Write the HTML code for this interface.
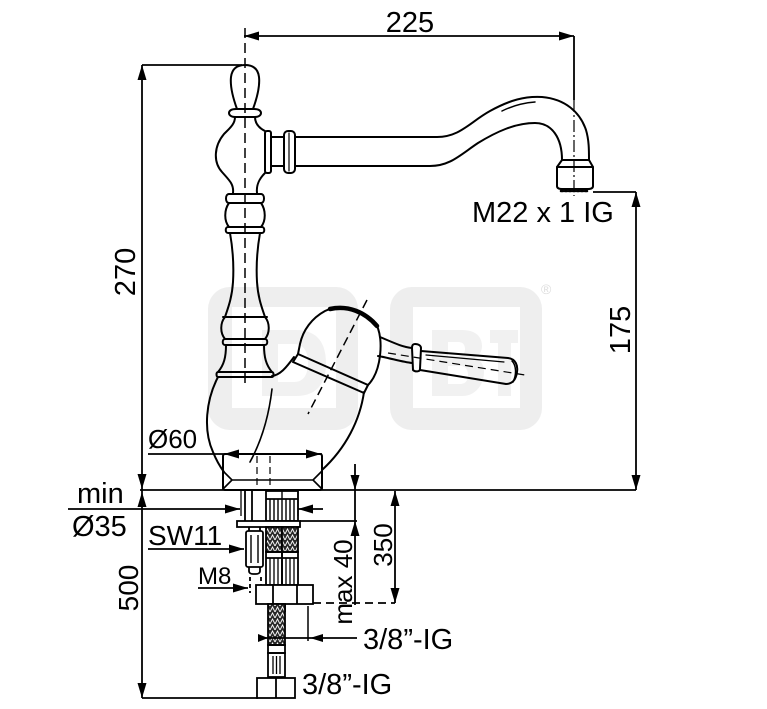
<!DOCTYPE html>
<html><head><meta charset="utf-8">
<style>
html,body{margin:0;padding:0;background:#fff;}
svg{display:block;}
text{font-family:"Liberation Sans",Arial,sans-serif;fill:#000;}
</style></head><body>
<svg width="767" height="709" viewBox="0 0 767 709" xmlns="http://www.w3.org/2000/svg">
<defs>
<pattern id="br" width="5" height="6" patternUnits="userSpaceOnUse">
<rect width="5" height="6" fill="#2a2a2a"/>
<path d="M0,6 L2.5,1 L5,6" stroke="#fff" stroke-width="0.9" fill="none"/>
</pattern>
</defs>
<rect width="767" height="709" fill="#fff"/>

<!-- watermark -->
<g>
<rect x="208" y="287" width="150" height="143" rx="22" fill="#eeeeee"/>
<rect x="232" y="307" width="104" height="101" fill="#fff"/>
<rect x="390" y="287" width="152" height="143" rx="22" fill="#eeeeee"/>
<rect x="413" y="307" width="107" height="101" fill="#fff"/>
<g fill="#f1f1f1">
<rect x="262" y="330" width="16" height="66"/>
<path d="M278,330 h18 c22,0 30,14 30,33 c0,19 -8,33 -30,33 h-18 v-14 h16 c10,0 14,-8 14,-19 c0,-11 -4,-19 -14,-19 h-16 z"/>
<rect x="432" y="330" width="16" height="66"/>
<path d="M448,330 h14 c14,0 20,7 20,16 c0,6 -3,10 -8,12 c7,2 10,7 10,14 c0,12 -8,24 -22,24 h-14 v-12 h12 c6,0 8,-4 8,-9 c0,-5 -2,-9 -8,-9 h-12 v-10 h10 c5,0 7,-3 7,-7 c0,-4 -2,-7 -7,-7 h-10 z"/>
<rect x="490" y="330" width="28" height="13"/>
<rect x="498" y="343" width="13" height="53"/>
</g>
<text x="541" y="294" font-size="14" style="fill:#dddddd">®</text>
</g>

<!-- centerlines -->
<g stroke="#000" fill="none" stroke-width="1.5">
<line x1="245" y1="28" x2="245" y2="385" stroke-dasharray="10 5"/>
<line x1="367" y1="300" x2="308" y2="414" stroke-dasharray="9 5"/>
<line x1="388" y1="353" x2="525" y2="375" stroke-dasharray="8 5" stroke-width="1.2"/>
<line x1="574" y1="100" x2="574" y2="196" stroke-dasharray="12 3 2 3" stroke-width="1.2"/>
<line x1="257" y1="456" x2="257" y2="488" stroke-dasharray="7 4" stroke-width="1.2"/>
<line x1="270" y1="456" x2="270" y2="488" stroke-dasharray="7 4" stroke-width="1.2"/>
</g>

<!-- faucet outlines -->
<g stroke="#000" fill="none" stroke-width="2" stroke-linejoin="round" stroke-linecap="round">
<!-- finial -->
<path d="M237,109 C233,98 230,86 231,77 C232,69 237,65 245,65 C253,65 258,69 259,77 C260,86 257,98 253,109"/>
<path d="M236,109 L254,109 C259,109 261,111 261,113 C261,115 259,117 255,117 L235,117 C231,117 229,115 229,113 C229,111 231,109 236,109 Z"/>
<!-- vase -->
<path d="M235,117 C235,124 230,128 224,134 C214,146 213,162 222,172 C229,180 234,184 233,193"/>
<path d="M255,117 C255,124 259,128 265,131"/>
<path d="M265,173 C260,178 256,184 257,193"/>
<!-- spout connector -->
<rect x="265" y="131" width="6" height="42" rx="2"/>
<line x1="271" y1="137" x2="284" y2="137"/>
<line x1="271" y1="166" x2="284" y2="166"/>
<rect x="284" y="131" width="11" height="42" rx="4"/>
<line x1="289" y1="133" x2="289" y2="171" stroke-width="1.2"/>
<!-- spout -->
<path d="M295,137 L437,137 C460,137 470,122 490,111 C510,100 525,96 542,97 C565,99 580,112 586,130 C589,140 589,150 589,160"/>
<path d="M295,166 L430,166 C450,166 460,155 478,143 C496,132 515,123 535,123 C552,123 562,138 562,160"/>
<path d="M502,111 C512,106 522,103 535,102" stroke-width="1.5"/>
<line x1="562" y1="160" x2="589" y2="160"/>
<path d="M562,160 L557,167 M589,160 L593,167"/>
<path d="M557,167 L593,167 L593,186 C593,188 591,189 588,189 L562,189 C559,189 557,188 557,186 Z"/>
<path d="M561,191 L589,191" stroke-dasharray="2 2" stroke-width="2.5"/>
<!-- rings below vase -->
<path d="M229,194 L261,194 C265,194 265,203 261,203 L229,203 C225,203 225,194 229,194 Z"/>
<path d="M229,203 C224,210 224,221 229,227"/>
<path d="M261,203 C266,210 266,221 261,227"/>
<path d="M228,227 L262,227 C265,227 265,233 262,233 L228,233 C225,233 225,227 228,227 Z"/>
<!-- stem -->
<path d="M230,233 C233,250 234,265 233,282 C232,298 228,308 225,317"/>
<path d="M260,233 C257,250 256,265 257,282 C258,298 262,308 265,317"/>
<line x1="223" y1="317" x2="267" y2="317"/>
<path d="M225,317 C220,323 220,333 225,339"/>
<path d="M265,317 C270,323 270,333 265,339"/>
<path d="M225,339 L265,339 C268,339 268,345 265,345 L225,345 C222,345 222,339 225,339 Z"/>
<path d="M226,345 C226,357 224,365 218,372"/>
<path d="M264,345 C264,357 266,365 272,372"/>
<path d="M218,372 L272,372 C274,372 274,377 272,377 L218,377 C216,377 216,372 218,372 Z"/>
<!-- body -->
<path d="M272,376 C280,375 286,368 294,357"/>
<path d="M218,377 C206,400 203,430 213,452 C217,462 221,468 224,472"/>
<path d="M364,392 C360,420 346,448 322,470"/>
<path d="M272,389 C269,415 262,440 250,462" stroke-width="1.6"/>
<!-- cartridge -->
<path d="M298,354 L368,385 M293,362 L364,393 M298,354 L293,362 M368,385 L364,393"/>
<path d="M298,354 L300,344 C303,330 312,318 325,311 C340,304 362,310 374,321 C381,330 382,346 379,362 C377,372 373,380 368,385"/>
<path d="M330,309 C348,305 365,312 377,326" stroke-width="4.5"/>
<!-- lever -->
<path d="M380,337 C392,342 402,347 412,348"/>
<path d="M378,356 C390,358 402,362 412,363"/>
<path d="M415,344 C419,344 421,346 421,348 L420,369 C420,372 415,372 413,370 L412,348 C412,345 413,344 415,344 Z"/>
<path d="M421,351 L508,358 C516,359 518,366 517,372 C516,380 512,384 506,384 L420,370"/>
<path d="M426,355 L504,362" stroke-width="1.2"/>
<path d="M512,361 C516,365 517,374 513,382" stroke-width="1.5"/>
<!-- base -->
<rect x="223" y="454" width="99" height="36" rx="2"/>
<path d="M223,471 L232,480 L223,489 M322,471 L313,480 L322,489 M232,480 L313,480" stroke-width="1.6"/>
</g>

<!-- under-sink parts -->
<g stroke="#000" fill="none" stroke-width="1.8">
<line x1="245" y1="490" x2="245" y2="521"/>
<line x1="252" y1="490" x2="252" y2="521"/>
<rect x="266" y="491" width="32" height="30"/>
<line x1="266" y1="499" x2="298" y2="499"/>
<path d="M270,499 V521 M274,499 V521 M278,499 V521 M282,491 V521 M286,499 V521 M290,499 V521 M294,499 V521" stroke-width="1.4"/>
<rect x="237" y="521" width="63" height="6" fill="#fff"/>
<line x1="249" y1="527" x2="249" y2="531"/>
<line x1="260" y1="527" x2="260" y2="531"/>
<rect x="246" y="531" width="17" height="36" rx="2"/>
<line x1="251" y1="535" x2="251" y2="563" stroke-width="1.4"/>
<line x1="258" y1="535" x2="258" y2="563" stroke-width="1.4"/>
<path d="M249,567 L249,571 C249,573 251,574 253,574 L256,574 C258,574 260,573 260,571 L260,567"/>
<line x1="250" y1="577" x2="250" y2="593" stroke-dasharray="4 3"/>
<line x1="261" y1="577" x2="261" y2="593" stroke-dasharray="4 3"/>
<rect x="266" y="527" width="16" height="25" fill="url(#br)"/>
<rect x="282" y="527" width="16" height="25" fill="url(#br)"/>
<rect x="266" y="552" width="16" height="33"/>
<rect x="282" y="552" width="16" height="33"/>
<line x1="266" y1="558" x2="298" y2="558"/>
<path d="M270,558 V585 M274,558 V585 M278,558 V585 M286,558 V585 M290,558 V585 M294,558 V585" stroke-width="1.3"/>
<rect x="256" y="585" width="57" height="19" fill="#fff"/>
<line x1="273" y1="585" x2="273" y2="604"/>
<line x1="297" y1="585" x2="297" y2="604"/>
<line x1="285" y1="604" x2="285" y2="612"/>
<rect x="268" y="604" width="17" height="41" fill="url(#br)"/>
<rect x="268" y="645" width="17" height="8"/>
<rect x="268" y="653" width="17" height="24"/>
<path d="M273,656 V674 M276.5,656 V674 M280,656 V674" stroke-width="1.3"/>
<rect x="257" y="678" width="38" height="20"/>
<line x1="276" y1="678" x2="276" y2="698"/>
</g>

<!-- dimension lines -->
<g stroke="#000" fill="none" stroke-width="1.8">
<line x1="244" y1="36" x2="574" y2="36"/>
<line x1="574" y1="36" x2="574" y2="100"/>
<line x1="142" y1="65" x2="242" y2="65"/>
<line x1="142" y1="65" x2="142" y2="698"/>
<line x1="142" y1="698" x2="258" y2="698"/>
<line x1="140" y1="490" x2="636" y2="490"/>
<line x1="593" y1="192" x2="636" y2="192"/>
<line x1="636" y1="192" x2="636" y2="490"/>
<line x1="148" y1="454" x2="322" y2="454"/>
<line x1="68" y1="509" x2="240" y2="509"/>
<line x1="298" y1="509" x2="323" y2="509"/>
<line x1="241" y1="490" x2="241" y2="516" stroke-width="1.3"/>
<line x1="298" y1="490" x2="298" y2="516" stroke-width="1.3"/>
<line x1="148" y1="549" x2="244" y2="549"/>
<line x1="198" y1="588" x2="248" y2="588"/>
<line x1="355" y1="464" x2="355" y2="605"/>
<line x1="300" y1="521" x2="357" y2="521"/>
<line x1="395" y1="491" x2="395" y2="603"/>
<line x1="313" y1="603" x2="395" y2="603" stroke-dasharray="8 5"/>
<line x1="262" y1="638" x2="357" y2="638"/>
<line x1="308" y1="606" x2="308" y2="641" stroke-width="1.5"/>
</g>

<!-- arrowheads -->
<g fill="#000">
<polygon points="244,36 259,31.5 259,40.5"/>
<polygon points="574,36 559,31.5 559,40.5"/>
<polygon points="142,65 137.5,80 146.5,80"/>
<polygon points="142,489 137.5,474 146.5,474"/>
<polygon points="142,492 137.5,507 146.5,507"/>
<polygon points="142,698 137.5,683 146.5,683"/>
<polygon points="636,192 631.5,207 640.5,207"/>
<polygon points="636,490 631.5,475 640.5,475"/>
<polygon points="224,454 239,449.5 239,458.5"/>
<polygon points="321,454 306,449.5 306,458.5"/>
<polygon points="240,509 225,504.5 225,513.5"/>
<polygon points="298,509 313,504.5 313,513.5"/>
<polygon points="244,549 229,544.5 229,553.5"/>
<polygon points="248,588 233,583.5 233,592.5"/>
<polygon points="355,490 350.5,475 359.5,475"/>
<polygon points="355,521 350.5,536 359.5,536"/>
<polygon points="395,491 390.5,506 399.5,506"/>
<polygon points="395,603 390.5,588 399.5,588"/>
<polygon points="310,638 323,634 323,642"/>
<polygon points="268,638 258,634 258,642"/>
</g>

<!-- labels -->
<text x="410" y="32" font-size="29" text-anchor="middle">225</text>
<text x="472" y="222" font-size="29">M22 x 1 IG</text>
<text transform="translate(135,272) rotate(-90)" font-size="29" text-anchor="middle">270</text>
<text transform="translate(630,330) rotate(-90)" font-size="29" text-anchor="middle">175</text>
<text x="148" y="448" font-size="26">Ø60</text>
<text x="77" y="503" font-size="29">min</text>
<text x="72" y="536" font-size="29">Ø35</text>
<text x="148" y="545" font-size="28">SW11</text>
<text x="198" y="584" font-size="24">M8</text>
<text transform="translate(138,588) rotate(-90)" font-size="28" text-anchor="middle">500</text>
<text transform="translate(352,582) rotate(-90)" font-size="26" text-anchor="middle">max 40</text>
<text transform="translate(392,545) rotate(-90)" font-size="26" text-anchor="middle">350</text>
<text x="363" y="649" font-size="29">3/8”-IG</text>
<text x="302" y="694" font-size="29">3/8”-IG</text>
</svg>
</body></html>
